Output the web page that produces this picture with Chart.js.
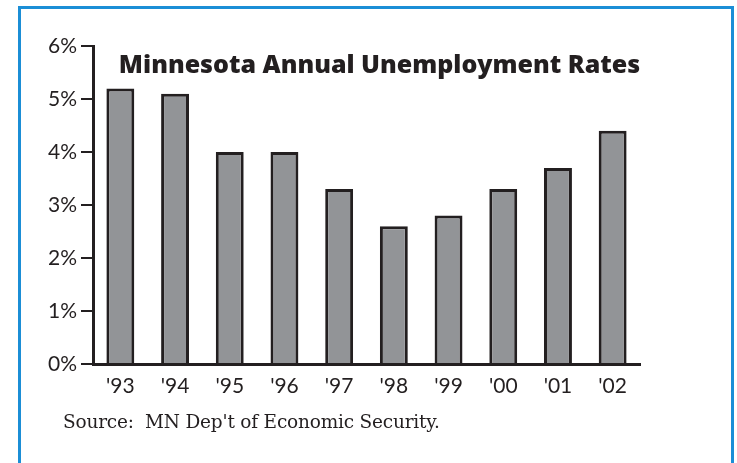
<!DOCTYPE html>
<html>
<head>
<meta charset="utf-8">
<script src="https://cdn.jsdelivr.net/npm/chart.js@4/dist/chart.umd.min.js"></script>
<style>
    body { margin: 0; background: #fff; width: 737px; height: 463px; overflow: hidden; position: relative; }
    #frame { position: absolute; left: 18px; top: 6px; width: 716px; height: 480px; border: 3px solid #1b8ed6; box-sizing: border-box; }
    #wrap { position: absolute; left: 0; top: 0; width: 737px; height: 463px; }
    #source { position: absolute; left: 63px; top: 411px; font-family: "DejaVu Serif", serif; font-size: 18.5px; color: #231f20; white-space: pre; letter-spacing: -0.2px; }
</style>
</head>
<body>
<div id="frame"></div>
<div id="wrap"><canvas id="rateChart"></canvas></div>
<div id="source">Source:  MN Dep't of Economic Security.</div>
<script>
// Data
const years = ["'93", "'94", "'95", "'96", "'97", "'98", "'99", "'00", "'01", "'02"];
const rates = [5.2, 5.1, 4.0, 4.0, 3.3, 2.6, 2.8, 3.3, 3.7, 4.4];
const yTicks = [0, 1, 2, 3, 4, 5, 6];
const chartTitle = "Minnesota Annual Unemployment Rates";

const ink = "#231f20";
const tickFont = { family: "Lato", size: 21 };

// title is drawn inside the plot area, like the printed original
const innerTitle = {
    id: "innerTitle",
    afterDraw(chart) {
        const ctx = chart.ctx;
        const area = chart.chartArea;
        ctx.save();
        ctx.font = "800 25px 'Open Sans'";
        ctx.fillStyle = ink;
        ctx.textAlign = "center";
        ctx.textBaseline = "middle";
        ctx.fillText(chartTitle, (area.left + area.right) / 2 + 13, area.top + 20);
        ctx.restore();
    },
};

new Chart(document.getElementById("rateChart"), {
    type: "bar",
    data: {
        labels: years,
        datasets: [
            {
                data: rates,
                backgroundColor: "#929497",
                borderColor: ink,
                borderWidth: 3,
                borderSkipped: "start",
                categoryPercentage: 1,
                barPercentage: 0.51,
            },
        ],
    },
    options: {
        responsive: true,
        maintainAspectRatio: false,
        animation: false,
        layout: { padding: { left: 0, right: 97, top: 46, bottom: 0 } },
        plugins: {
            legend: { display: false },
            tooltip: { enabled: false },
        },
        scales: {
            x: {
                grid: { display: false },
                border: { display: true, color: ink, width: 3 },
                ticks: { color: ink, font: tickFont, padding: 2 },
                afterFit(scale) { scale.height = 463 - 364; },
            },
            y: {
                min: 0,
                max: 6,
                afterBuildTicks(scale) { scale.ticks = yTicks.map(v => ({ value: v })); },
                grid: { drawOnChartArea: false, color: ink, tickLength: 12, lineWidth: 2 },
                border: { display: true, color: ink, width: 3 },
                ticks: { color: ink, font: tickFont, padding: 4, callback: v => v + "%" },
                afterFit(scale) { scale.width = 93; },
            },
        },
    },
    plugins: [innerTitle],
});
</script>
</body>
</html>
